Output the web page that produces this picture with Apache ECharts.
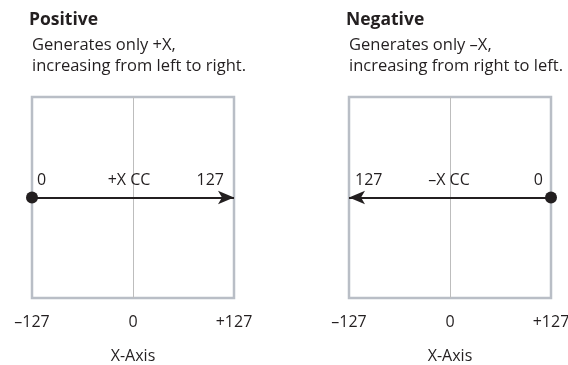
<!DOCTYPE html>
<html>
<head>
<meta charset="utf-8">
<script src="https://cdn.jsdelivr.net/npm/echarts@6/dist/echarts.min.js"></script>
<style>
html,body{margin:0;padding:0;background:#fff;}
#c{width:568px;height:365px;}
</style>
</head>
<body>
<div id="c"></div>
<script>
// ---- data ----
var panelTitles = ['Positive', 'Negative'];
var panelSubtitles = ['Generates only +X,\nincreasing from left to right.', 'Generates only \u2013X,\nincreasing from right to left.'];
var axisTicks = [-127, 0, 127];
var axisTickLabels = ['\u2013127', '0', '+127'];
var axisName = 'X-Axis';
// arrow start and end (x values) for each panel
var arrowStart = [-127, 127];
var arrowEnd = [127, -127];
// labels along the arrow: x anchor and text
var arrowLabelX = [[-127, 0, 127], [-127, 0, 127]];
var arrowLabelText = [['0', '+X CC', '127'], ['127', '\u2013X CC', '0']];

// ---- styles ----
var FONT = 'Open Sans';
var TXT = '#231f20';
var gridLefts = [32, 349];
var labelOffsets = [
  [{align: 'left', dx: 5}, {align: 'center', dx: -4}, {align: 'right', dx: -10}],
  [{align: 'left', dx: 6}, {align: 'center', dx: -1}, {align: 'right', dx: -8}]
];

var chart = echarts.init(document.getElementById('c'), null, {renderer: 'canvas'});

var grids = [], xAxes = [], yAxes = [], series = [], titles = [];
for (var p = 0; p < 2; p++) {
  titles.push({
    text: panelTitles[p], left: gridLefts[p] - 3, top: 11, padding: 0,
    textStyle: {fontFamily: FONT, fontSize: 17.5, fontWeight: 'bold', color: TXT}
  });
  titles.push({
    text: panelSubtitles[p], left: gridLefts[p], top: 35, padding: 0,
    textStyle: {fontFamily: FONT, fontSize: 16.5, fontWeight: 'normal', color: TXT, lineHeight: 21}
  });
  grids.push({
    left: gridLefts[p], width: 202, top: 97, height: 201,
    outerBoundsMode: 'none', containLabel: false,
    show: true, borderColor: '#b9bec6', borderWidth: 2.5, backgroundColor: 'transparent'
  });
  xAxes.push({
    gridIndex: p, type: 'value', min: -127, max: 127, interval: 127,
    axisLine: {show: false}, axisTick: {show: false},
    splitLine: {show: true, showMinLine: false, showMaxLine: false, lineStyle: {color: '#bdbdbd', width: 1}},
    axisLabel: {
      show: true, margin: 16, fontFamily: FONT, fontSize: 16, color: TXT,
      formatter: function (v) { var i = axisTicks.indexOf(v); return i >= 0 ? axisTickLabels[i] : ''; }
    },
    name: axisName, nameLocation: 'middle', nameGap: 50,
    nameTextStyle: {fontFamily: FONT, fontSize: 16, color: TXT}
  });
  yAxes.push({
    gridIndex: p, type: 'value', min: -1, max: 1, show: false
  });
  series.push({
    type: 'line', xAxisIndex: p, yAxisIndex: p, data: [], silent: true,
    markLine: {
      silent: true, animation: false,
      lineStyle: {color: '#231f20', width: 2, type: 'solid'},
      label: {show: false},
      data: [[
        {coord: [arrowStart[p], 0], symbol: 'circle', symbolSize: 12, itemStyle: {color: '#33363b'}},
        {coord: [arrowEnd[p], 0], symbol: 'arrow', symbolSize: [10, 16]}
      ]]
    }
  });
  var ld = [];
  for (var k = 0; k < arrowLabelX[p].length; k++) {
    var o = labelOffsets[p][k];
    ld.push({
      value: [arrowLabelX[p][k], 0],
      name: arrowLabelText[p][k],
      label: {align: o.align, offset: [o.dx, 0]}
    });
  }
  series.push({
    type: 'scatter', xAxisIndex: p, yAxisIndex: p, symbolSize: 0, silent: true,
    itemStyle: {color: TXT, opacity: 1},
    label: {
      show: true, position: 'top', distance: 9,
      formatter: '{b}', fontFamily: FONT, fontSize: 16, color: TXT, opacity: 1
    },
    data: ld, z: 5
  });
}

chart.setOption({
  animation: false,
  backgroundColor: '#ffffff',
  title: titles,
  grid: grids,
  xAxis: xAxes,
  yAxis: yAxes,
  series: series
});
</script>
</body>
</html>
